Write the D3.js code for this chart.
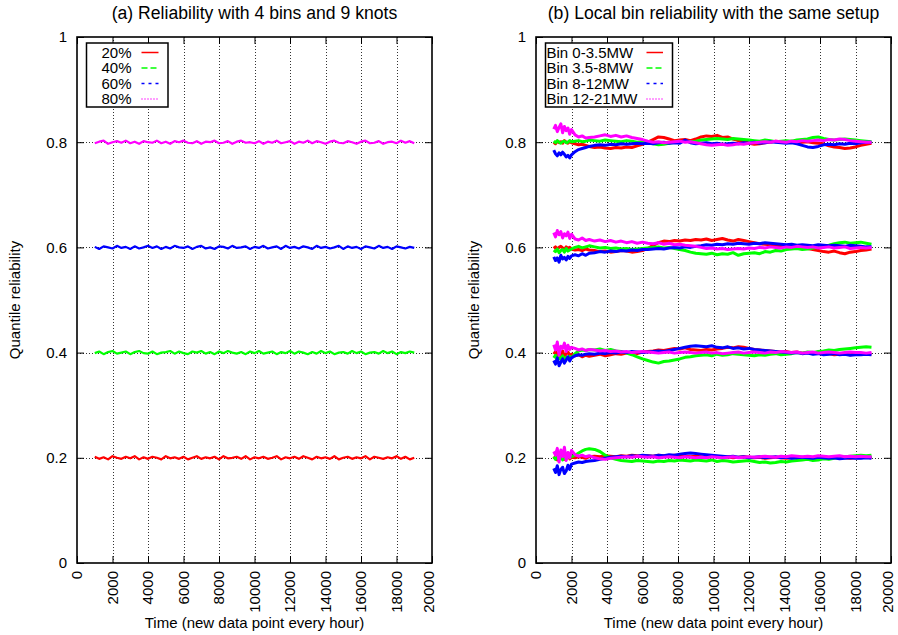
<!DOCTYPE html>
<html><head><meta charset="utf-8">
<script src="https://cdn.jsdelivr.net/npm/d3@7"></script>
<style>
body{margin:0;background:#fff}
svg{display:block}
text{font-family:"Liberation Sans",Arial,Helvetica,sans-serif;font-size:15px;fill:#000}
</style>
</head><body><svg id="c" width="898" height="635"></svg>
<script>
// ---------- axis / label data ----------
const xTicks = [0,2000,4000,6000,8000,10000,12000,14000,16000,18000,20000];
const yTicks = [0,0.2,0.4,0.6,0.8,1];
const yTickLabels = ["0","0.2","0.4","0.6","0.8","1"];
const quantiles = [0.2,0.4,0.6,0.8];
const leftLegend = ["20%","40%","60%","80%"];
const binLegend = ["Bin 0-3.5MW","Bin 3.5-8MW","Bin 8-12MW","Bin 12-21MW"];
const titles = ["(a) Reliability with 4 bins and 9 knots","(b) Local bin reliability with the same setup"];
const xLabel = "Time (new data point every hour)";
const yLabel = "Quantile reliability";

// ---------- panel (a): time points and offsets (in 0.001) from nominal quantile ----------
const timeA = [1000,1250,1500,1750,2000,2250,2500,2750,3000,3250,
3500,3750,4000,4250,4500,4750,5000,5250,5500,5750,
6000,6250,6500,6750,7000,7250,7500,7750,8000,8250,
8500,8750,9000,9250,9500,9750,10000,10250,10500,10750,
11000,11250,11500,11750,12000,12250,12500,12750,13000,13250,
13500,13750,14000,14250,14500,14750,15000,15250,15500,15750,
16000,16250,16500,16750,17000,17250,17500,17750,18000,18250,
18500,18750,19000];
const relA20 = [2,-2,1,-3,3,0,-2,2,-1,3, -3,1,-2,2,0,-3,3,-1,1,-2, 2,-3,0,3,-2,1,-1,2,-3,3, -1,0,2,-2,3,-3,1,-1,2,-2, 0,3,-3,1,-1,2,-2,3,0,-3, 2,-1,1,-2,3,-3,0,2,-2,1, -1,3,-3,2,0,-2,1,-1,3,-2, 2,-3,0];
const relA40 = [-1,2,-3,1,3,-2,0,2,-3,1, 3,-1,-2,2,-3,0,1,3,-2,2, -1,-3,2,0,3,-2,1,-3,2,-1, 3,0,-2,1,-3,2,-1,3,-2,0, 2,-3,1,-1,3,-2,2,0,-3,1, -2,3,-1,2,-3,0,1,-2,3,-1, 2,-3,0,1,-2,3,-1,2,-3,1, -1,2,0];
const relA60 = [1,-3,2,0,-2,3,-1,1,-3,2, -2,0,3,-1,2,-3,1,-2,3,0, -1,2,-3,1,3,-2,0,-3,2,1, -2,3,-1,0,2,-3,1,-1,3,-2, 0,2,-3,3,-1,1,-2,2,0,-3, 3,-1,1,-2,0,3,-3,2,-1,1, -3,2,0,-2,3,-1,1,-3,2,0, -2,1,-1];
const relA80 = [-2,1,3,-3,0,2,-1,3,-2,1, -3,2,0,-1,3,-2,1,-3,2,0, 3,-1,-2,2,-3,1,0,3,-2,-1, 2,-3,1,3,-1,0,-2,2,-3,1, -1,3,-2,0,2,-3,1,-1,3,-2, 2,0,-3,1,3,-1,-2,2,0,-3, 1,3,-2,-1,2,-3,0,1,-2,3, -1,2,-2];

// ---------- panel (b): time points and offsets (in 0.001) from nominal quantile ----------
const timeB = [1000,1100,1200,1300,1400,1500,1600,1700,1800,1900,2000,
2200,2400,2600,2800,3000,
3300,3600,3900,4200,4500,4800,5100,5400,5700,6000,
6300,6600,6900,7200,7500,7800,8100,8400,8700,9000,
9300,9600,9900,10200,10500,10800,11100,11400,11700,12000,
12300,12600,12900,13200,13500,13800,14100,14400,14700,15000,
15300,15600,15900,16200,16500,16800,17100,17400,17700,18000,
18300,18600,18900];
// Bin 0-3.5MW (red)
const bin1Q20 = [-2,3,-4,1,-1,2,-3,0,4,-2,1, 0,2,1,-1,2, 3,2,4,3,2,4,3,5,4,3, 4,3,5,4,3,5,4,3,2,3, 2,1,3,2,1,2,0,1,2,1, 0,1,-1,0,1,0,-1,0,1,0, -1,0,1,0,-1,0,1,0,-1,0, 0,1,0];
const bin1Q40 = [-3,2,-6,0,-4,3,-8,-2,1,-5,-3, -6,-4,-8,-5,-7, -5,-3,-6,-4,-2,-3,-1,0,-2,1, 2,3,5,4,6,8,7,9,6,5, 4,6,5,7,8,10,9,11,10,8, 6,5,4,3,2,1,2,0,1,-1, 0,-2,-1,-3,-2,-4,-3,-2,-4,-3, -3,-2,-3];
const bin1Q60 = [-2,1,-3,0,2,-1,-4,1,-2,0,-3, -5,-4,-6,-3,-5, -6,-8,-7,-9,-8,-6,-7,-9,-8,-6, -2,4,9,12,11,13,12,14,13,15, 14,16,13,15,17,14,12,15,13,11, 9,7,6,5,4,3,2,1,3,0, -2,-4,-6,-8,-9,-7,-10,-12,-9,-8, -6,-5,-3];
const bin1Q80 = [0,-3,2,-1,1,-2,3,0,-2,1,-1, -3,-5,-4,-6,-8, -10,-9,-11,-12,-10,-11,-9,-10,-7,-4, 0,5,10,9,6,3,4,5,3,6, 10,12,11,13,9,10,6,3,2,-2, -4,-3,-1,0,2,1,0,2,-1,0, 1,-1,-2,-3,-7,-9,-10,-12,-11,-9, -6,-4,-2];
// Bin 3.5-8MW (green)
const bin2Q20 = [2,-3,5,-1,3,-4,1,-2,4,0,2, 5,9,13,16,17, 16,12,5,0,-3,-5,-6,-7,-5,-6, -7,-8,-6,-7,-5,-6,-4,-5,-6,-4, -5,-6,-4,-7,-5,-6,-8,-7,-6,-5, -7,-9,-8,-10,-9,-7,-8,-6,-5,-4, -3,-5,-4,-2,-3,-1,0,2,3,4, 5,4,5];
const bin2Q40 = [-10,-5,-15,-8,-12,-6,-14,-9,-11,-7,-10, -2,3,5,4,6, 5,7,4,6,3,2,-1,-4,-8,-12, -15,-18,-20,-17,-16,-14,-12,-9,-8,-6, -5,-4,-6,-3,-5,-4,-2,-3,-4,-5, -6,-4,-5,-3,-2,-4,-3,-2,0,-1, 1,0,2,3,5,4,6,7,8,9, 10,11,10];
const bin2Q60 = [-5,-8,-3,-10,-6,-4,-9,-2,-7,-5,-3, 0,2,-1,1,3, 1,-1,0,-2,-1,-3,-2,-4,-3,-2, -1,0,1,-1,0,-2,-4,-6,-9,-11, -12,-13,-11,-14,-12,-13,-10,-15,-12,-11, -10,-12,-8,-9,-6,-7,-4,-3,-2,-4, -3,-1,0,2,4,7,9,10,8,9, 10,8,6];
const bin2Q80 = [2,-1,3,0,-2,1,2,-1,0,3,1, 2,3,1,2,4, 3,2,4,3,2,1,3,2,0,1, -1,-3,-5,-4,-2,0,1,2,1,2, 4,5,6,7,6,5,7,6,5,4, 3,2,4,3,1,2,3,2,4,5, 6,9,10,7,5,4,5,6,5,4, 3,2,1];
// Bin 8-12MW (blue)
const bin3Q20 = [-20,-28,-15,-32,-22,-18,-30,-25,-14,-22,-12, -10,-8,-9,-7,-6, -5,-3,-1,1,2,3,2,4,3,5, 4,3,5,4,6,5,7,8,9,8, 7,6,5,4,3,2,3,1,2,0, 1,2,0,1,2,0,1,-1,0,1, 0,-1,1,0,-1,0,-2,-1,0,-1, -1,0,-1];
const bin3Q40 = [-15,-22,-10,-25,-18,-12,-20,-14,-8,-16,-10, -6,-4,-5,-3,-2, -3,-1,-2,0,-1,1,0,2,1,0, 1,2,3,2,4,6,8,10,12,13, 12,11,13,10,9,11,8,9,7,8, 6,5,4,3,2,1,0,-1,0,-2, -1,-3,-2,-4,-3,-2,-4,-3,-5,-4, -4,-3,-4];
const bin3Q60 = [-18,-25,-20,-28,-15,-22,-19,-24,-17,-21,-16, -14,-16,-12,-15,-11, -10,-8,-9,-7,-8,-6,-7,-5,-6,-4, -4,-3,-2,-3,-1,0,-1,1,0,2, 3,5,4,6,5,7,6,8,7,6, 8,7,9,8,7,6,5,6,4,5, 4,3,5,4,3,4,3,2,4,3, 2,1,1];
const bin3Q80 = [-15,-22,-26,-20,-24,-19,-23,-28,-25,-30,-24, -18,-14,-12,-10,-8, -6,-5,-6,-4,-5,-3,-4,-3,-2,-3, -2,-3,-1,0,-2,-1,-2,4,-1,-3, -2,-1,-3,-2,-4,-3,-2,-3,-1,-2, 0,-2,-1,1,0,-1,-2,-1,-3,-6, -9,-10,-8,-5,-4,-5,-3,-4,-2,-3, -1,0,0];
// Bin 12-21MW (magenta)
const bin4Q20 = [12,5,18,-8,15,2,20,-5,10,0,14, 6,3,5,2,4, 0,-2,-3,-1,0,1,2,1,3,2, 1,2,0,1,2,1,0,2,1,0, 1,0,2,1,0,1,2,0,1,2, 1,2,3,2,1,3,2,4,3,2, 3,2,4,3,2,3,4,2,3,2, 3,2,2];
const bin4Q40 = [15,5,20,-5,12,8,18,2,14,6,10, 8,5,7,4,6, 5,3,4,2,3,1,2,0,1,2, 1,0,-1,0,1,-1,0,1,0,-1, 0,1,-1,0,-2,-1,0,1,-1,0, 1,0,-1,1,0,2,1,0,1,-1, 0,1,-1,0,1,0,-1,0,1,0, 0,-1,0];
const bin4Q60 = [28,20,32,24,30,18,26,22,29,17,25, 16,14,18,13,15, 12,14,11,13,10,12,9,11,8,10, 8,7,9,6,8,5,6,4,3,2, 0,-2,-1,-3,-2,-4,-3,-2,-3,-1, -2,0,-1,1,0,-1,1,0,2,1, 0,1,-1,0,1,-1,0,1,-2,-1, 0,-1,0];
const bin4Q80 = [25,32,20,28,35,18,30,22,27,15,24, 14,10,12,8,9, 10,12,14,11,13,10,12,9,7,5, 2,0,1,-1,0,1,2,0,1,-1, -3,-5,-6,-5,-4,-6,-5,-3,-4,-2, -1,0,1,0,2,1,0,2,1,3, 2,3,4,3,5,4,6,5,3,2, 1,0,0];

// ---------- styles ----------
const colors = ["#ff0000","#00ff00","#0000ff","#ff00ff"];
const dashes = [null,"6,3","3,4","1,2"];

const svg = d3.select("#c");
const Y0 = 37, Y1 = 563;

function toSeries(times, offs, level){
  return times.map((t,i)=>[t, level + offs[i]/1000]);
}

function panel(px0, px1, title, legendLabels, legendAlign, groups, lw){
  const x = d3.scaleLinear().domain([0,20000]).range([px0,px1]);
  const y = d3.scaleLinear().domain([0,1]).range([Y1,Y0]);
  const g = svg.append("g");
  const cid = "clip"+px0;
  g.append("clipPath").attr("id",cid).append("rect")
    .attr("x",px0).attr("y",Y0).attr("width",px1-px0).attr("height",Y1-Y0);

  // grid
  g.append("g").selectAll("line").data(xTicks.slice(1,-1)).join("line")
    .attr("x1",d=>Math.round(x(d))+0.5).attr("x2",d=>Math.round(x(d))+0.5)
    .attr("y1",Y0).attr("y2",Y1)
    .attr("stroke","#333").attr("stroke-width",1).attr("stroke-dasharray","1,2");
  g.append("g").selectAll("line").data(yTicks.slice(1,-1)).join("line")
    .attr("y1",d=>Math.round(y(d))+0.5).attr("y2",d=>Math.round(y(d))+0.5)
    .attr("x1",px0).attr("x2",px1)
    .attr("stroke","#333").attr("stroke-width",1).attr("stroke-dasharray","1,2");

  // data
  const line = d3.line().x(d=>x(d[0])).y(d=>y(d[1]));
  const dg = g.append("g").attr("clip-path","url(#"+cid+")");
  groups.forEach((grp,ci)=>{
    grp.forEach(s=>{
      dg.append("path").datum(s).attr("d",line)
        .attr("fill","none").attr("stroke",colors[ci])
        .attr("stroke-width",lw).attr("stroke-linejoin","round");
    });
  });

  // axes (inward ticks)
  const ax = g.append("g").attr("transform",`translate(0,${Y1})`)
    .call(d3.axisBottom(x).tickValues(xTicks).tickSize(-7).tickFormat(d3.format("d")));
  ax.selectAll("text")
    .attr("transform","rotate(-90)").attr("x",-8).attr("y",(d,i)=> i===xTicks.length-1 ? -3 : 0)
    .attr("dy","0.33em").attr("text-anchor","end");
  g.append("g").attr("transform",`translate(0,${Y0})`)
    .call(d3.axisTop(x).tickValues(xTicks).tickSize(-7).tickFormat(""));
  g.append("g").attr("transform",`translate(${px0},0)`)
    .call(d3.axisLeft(y).tickValues(yTicks).tickSize(-7).tickPadding(10)
      .tickFormat((d,i)=>yTickLabels[i]));
  g.append("g").attr("transform",`translate(${px1},0)`)
    .call(d3.axisRight(y).tickValues(yTicks).tickSize(-7).tickFormat(""));
  g.selectAll(".domain").remove();
  g.selectAll(".tick line").attr("stroke","#000").attr("stroke-width",1);
  g.selectAll(".tick text").style("font-size","15px")
    .style("font-family",'"Liberation Sans",Arial,Helvetica,sans-serif').attr("fill","#000");

  // frame
  g.append("rect").attr("x",px0).attr("y",Y0).attr("width",px1-px0).attr("height",Y1-Y0)
    .attr("fill","none").attr("stroke","#000").attr("stroke-width",1.6);

  // titles / labels
  const cx = (px0+px1)/2;
  g.append("text").attr("x",cx).attr("y",19).attr("text-anchor","middle")
    .style("font-size","17.6px").text(title);
  g.append("text").attr("x",cx).attr("y",628).attr("text-anchor","middle").text(xLabel);
  g.append("text").attr("transform",`translate(${px0-62},${(Y0+Y1)/2}) rotate(-90)`)
    .attr("text-anchor","middle").attr("dy","0.35em").text(yLabel);

  // legend
  const lg = g.append("g");
  const lx = px0 + 9.5;
  const lw2 = legendAlign==="end" ? 81.5 : 127;
  lg.append("rect").attr("x",lx).attr("y",43).attr("width",lw2).attr("height",64)
    .attr("fill","#fff").attr("stroke","#000").attr("stroke-width",1.5);
  const rows = [52.5,68,83.5,99];
  legendLabels.forEach((lab,i)=>{
    const tx = legendAlign==="end" ? lx+45 : lx+1;
    lg.append("text").attr("x",tx).attr("y",rows[i]).attr("dy","0.35em")
      .attr("text-anchor",legendAlign).text(lab);
    const sx0 = legendAlign==="end" ? lx+55 : lx+101;
    const sx1 = legendAlign==="end" ? lx+72 : lx+117.5;
    const l = lg.append("line").attr("x1",sx0).attr("x2",sx1)
      .attr("y1",rows[i]).attr("y2",rows[i])
      .attr("stroke",colors[i]).attr("stroke-width",1.5);
    if (dashes[i]) l.attr("stroke-dasharray",dashes[i]);
  });
}

// build series
const groupsA = [
  [toSeries(timeA, relA20, quantiles[0])],
  [toSeries(timeA, relA40, quantiles[1])],
  [toSeries(timeA, relA60, quantiles[2])],
  [toSeries(timeA, relA80, quantiles[3])]
];
const binsB = [
  [bin1Q20,bin1Q40,bin1Q60,bin1Q80],
  [bin2Q20,bin2Q40,bin2Q60,bin2Q80],
  [bin3Q20,bin3Q40,bin3Q60,bin3Q80],
  [bin4Q20,bin4Q40,bin4Q60,bin4Q80]
];
const groupsB = binsB.map(b=>b.map((offs,qi)=>toSeries(timeB, offs, quantiles[qi])));

panel(77, 432, titles[0], leftLegend, "end", groupsA, 2.2);
panel(536, 891, titles[1], binLegend, "start", groupsB, 3);
</script>
</body></html>
